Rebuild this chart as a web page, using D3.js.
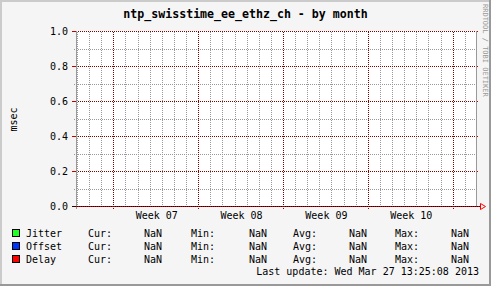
<!DOCTYPE html>
<html>
<head>
<meta charset="utf-8">
<script src="https://cdn.jsdelivr.net/npm/d3@7"></script>
<style>
  body { margin: 0; background: #fff; }
  svg text { font-family: "DejaVu Sans Mono", monospace; fill: #000; }
</style>
</head>
<body>
<div id="chart"></div>
<script>
// munin/rrdtool style graph, no data in range -> all NaN
var seriesNames = ["Jitter", "Offset", "Delay"];
var seriesColors = ["#22ff22", "#0033ff", "#ff0000"];
var statLabels = ["Cur:", "Min:", "Avg:", "Max:"];
var statValues = [
  ["NaN", "NaN", "NaN", "NaN"],
  ["NaN", "NaN", "NaN", "NaN"],
  ["NaN", "NaN", "NaN", "NaN"]
];
var yMajorTicks = [0, 0.2, 0.4, 0.6, 0.8, 1.0];
var yMinorTicks = [0.1, 0.3, 0.5, 0.7, 0.9];
var timeStart = new Date(Date.UTC(2013, 1, 7, 22, 9));
var timeEnd = new Date(Date.UTC(2013, 2, 12, 22, 9));   // 33 days
var titleText = "ntp_swisstime_ee_ethz_ch - by month";
var yLabel = "msec";
var lastUpdate = "Last update: Wed Mar 27 13:25:08 2013";

var W = 491, H = 286;
var plot = {left: 76, right: 476, top: 31, bottom: 206};

var svg = d3.select("#chart").append("svg")
  .attr("width", W).attr("height", H)
  .attr("shape-rendering", "crispEdges");

// dotted line patterns (1px on, 1px off)
var defs = svg.append("defs");
function dotPattern(id, color, horiz) {
  var p = defs.append("pattern").attr("id", id)
    .attr("patternUnits", "userSpaceOnUse")
    .attr("width", horiz ? 2 : 1).attr("height", horiz ? 1 : 2);
  p.append("rect").attr("width", 1).attr("height", 1).attr("fill", color);
}
dotPattern("hmin", "#999", true);
dotPattern("vmin", "#999", false);
dotPattern("hmaj", "#800000", true);
dotPattern("vmaj", "#800000", false);
dotPattern("haxis", "#c00000", true);

// background + 3d frame
svg.append("rect").attr("width", W).attr("height", H).attr("fill", "#f5f5f5");
svg.append("rect").attr("x", 0).attr("y", 0).attr("width", W).attr("height", 2).attr("fill", "#cbcbcb");
svg.append("rect").attr("x", 0).attr("y", 0).attr("width", 2).attr("height", H).attr("fill", "#cbcbcb");
svg.append("rect").attr("x", 0).attr("y", H - 2).attr("width", W).attr("height", 2).attr("fill", "#999");
svg.append("rect").attr("x", W - 2).attr("y", 0).attr("width", 2).attr("height", H).attr("fill", "#999");

// canvas
svg.append("rect")
  .attr("x", plot.left).attr("y", plot.top)
  .attr("width", plot.right - plot.left).attr("height", plot.bottom - plot.top)
  .attr("fill", "#fff");

var x = d3.scaleUtc().domain([timeStart, timeEnd]).range([plot.left, plot.right]);
var y = d3.scaleLinear().domain([0, 1]).range([plot.bottom, plot.top]);
var px = v => Math.round(v);

var days = d3.utcDay.range(timeStart, timeEnd);
var mondays = d3.utcMonday.range(timeStart, timeEnd);

var grid = svg.append("g");

// minor grid
grid.selectAll(".vmin").data(days).enter().append("rect")
  .attr("x", d => px(x(d))).attr("width", 1)
  .attr("y", plot.top).attr("height", plot.bottom - plot.top)
  .attr("fill", "url(#vmin)");
grid.selectAll(".hmin").data(yMinorTicks).enter().append("rect")
  .attr("x", plot.left - 2).attr("width", plot.right - plot.left + 3)
  .attr("y", d => px(y(d))).attr("height", 1)
  .attr("fill", "url(#hmin)");

// major grid
grid.selectAll(".vmaj").data(mondays).enter().append("rect")
  .attr("x", d => px(x(d))).attr("width", 1)
  .attr("y", plot.top).attr("height", plot.bottom - plot.top + 3)
  .attr("fill", "url(#vmaj)");
grid.selectAll(".hmaj").data(yMajorTicks).enter().append("rect")
  .attr("x", plot.left).attr("width", plot.right - plot.left)
  .attr("y", d => px(y(d))).attr("height", 1)
  .attr("fill", "url(#hmaj)");

// major ticks outside the canvas
grid.selectAll(".ltick").data(yMajorTicks).enter().append("rect")
  .attr("x", plot.left - 4).attr("width", 4)
  .attr("y", d => px(y(d))).attr("height", 1)
  .attr("fill", "#c00000");
grid.selectAll(".rtick").data(yMajorTicks).enter().append("rect")
  .attr("x", plot.right).attr("width", 2)
  .attr("y", d => px(y(d))).attr("height", 1)
  .attr("fill", "#c00000");

// frame lines
grid.append("rect")
  .attr("x", plot.left).attr("width", 1)
  .attr("y", plot.top).attr("height", plot.bottom - plot.top + 3)
  .attr("fill", "#999");
grid.append("rect")
  .attr("x", plot.right).attr("width", 1)
  .attr("y", plot.top).attr("height", plot.bottom - plot.top)
  .attr("fill", "#999");

// x axis with arrow
var y0 = px(y(0));
grid.append("rect").attr("x", plot.left - 4).attr("width", plot.right - plot.left + 8)
  .attr("y", y0).attr("height", 1).attr("fill", "#300000");
grid.append("rect").attr("x", plot.left).attr("width", plot.right - plot.left + 4)
  .attr("y", y0).attr("height", 1).attr("fill", "url(#haxis)");
svg.append("path")
  .attr("d", `M${plot.right + 4.5},${y0 - 2.5} L${plot.right + 9.5},${y0 + 0.5} L${plot.right + 4.5},${y0 + 3.5} Z`)
  .attr("fill", "none").attr("stroke", "#ff0000")
  .attr("shape-rendering", "auto");

// y tick labels
svg.selectAll(".ylab").data(yMajorTicks).enter().append("text")
  .attr("x", plot.left - 8).attr("y", d => y(d) + 4)
  .attr("text-anchor", "end").attr("font-size", "10px")
  .text(d => d.toFixed(1));

// week labels centred between mondays
var weekFmt = d3.utcFormat("Week %V");
svg.selectAll(".xlab").data(mondays.filter(d => x(d3.utcDay.offset(d, 7)) <= plot.right + 30))
  .enter().append("text")
  .attr("x", d => x(d3.utcHour.offset(d, 84)) + 1)
  .attr("y", 219)
  .attr("text-anchor", "middle").attr("font-size", "10px")
  .text(d => weekFmt(d));

// title
svg.append("text")
  .attr("x", 245.5).attr("y", 18)
  .attr("text-anchor", "middle").attr("font-size", "11.6px").attr("font-weight", "bold")
  .text(titleText);

// y axis label
svg.append("text")
  .attr("transform", "translate(13,119.5) rotate(-90)")
  .attr("text-anchor", "middle").attr("dominant-baseline", "central")
  .attr("font-size", "10px")
  .text(yLabel);

// watermark
svg.append("text")
  .attr("transform", "translate(482.5,4) rotate(90)")
  .attr("font-size", "7px").style("fill", "#999")
  .text("RRDTOOL / TOBI OETIKER");

// legend
var rowY = [229, 242, 255];
var statX = [88, 191, 293, 395];
var valEnd = [162, 267, 367, 469];
var legend = svg.selectAll(".leg").data(seriesNames).enter().append("g")
  .attr("transform", (d, i) => `translate(0,${rowY[i]})`);
legend.append("rect")
  .attr("x", 12).attr("y", 0).attr("width", 8).attr("height", 8)
  .attr("fill", "#000");
legend.append("rect")
  .attr("x", 13).attr("y", 1).attr("width", 6).attr("height", 6)
  .attr("fill", (d, i) => seriesColors[i]);
legend.append("text").attr("x", 26).attr("y", 8).attr("font-size", "10px").text(d => d);
statLabels.forEach(function(lab, j) {
  legend.append("text").attr("x", statX[j]).attr("y", 8).attr("font-size", "10px").text(lab);
  legend.append("text").attr("x", valEnd[j]).attr("y", 8).attr("font-size", "10px")
    .attr("text-anchor", "end").text((d, i) => statValues[i][j]);
});

svg.append("text")
  .attr("x", 479).attr("y", 275)
  .attr("text-anchor", "end").attr("font-size", "10px")
  .text(lastUpdate);
</script>
</body>
</html>
